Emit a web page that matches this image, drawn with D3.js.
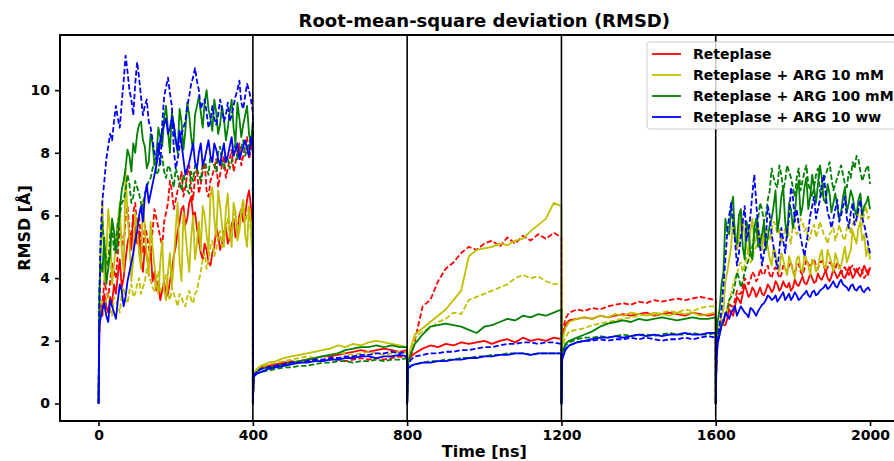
<!DOCTYPE html>
<html>
<head>
<meta charset="utf-8">
<title>RMSD</title>
<script src="https://d3js.org/d3.v7.min.js"></script>
<style>
  body { margin: 0; background: #fff; }
  svg text { font-family: "DejaVu Sans", sans-serif; font-weight: bold; fill: #000; }
</style>
</head>
<body>
<svg id="chart" width="894" height="461"></svg>
<script>
// five 400 ns blocks, each trajectory restarts at RMSD 0
var timeNs = [
  0,2,5,10,15,20,25,30,35,40,45,50,55,60,65,70,75,80,85,90,95,100,105,110,115,120,125,130,135,140,145,150,155,160,165,170,175,180,185,190,195,200,
  205,210,215,220,225,230,235,240,245,250,255,260,265,270,275,280,285,290,295,300,305,310,315,320,325,330,335,340,345,350,355,360,365,370,375,380,385,390,395,400,
  400,402,410,420,440,460,480,500,520,540,560,580,600,620,640,660,680,700,720,740,760,780,800,
  800,802,810,820,840,860,880,900,920,940,960,980,1000,1020,1040,1060,1080,1100,1120,1140,1160,1180,1200,
  1200,1202,1210,1220,1240,1260,1280,1300,1320,1340,1360,1380,1400,1420,1440,1460,1480,1500,1520,1540,1560,1580,1600,
  1600,1602,1605,1610,1615,1620,1625,1630,1635,1640,1645,1650,1655,1660,1665,1670,1675,1680,1685,1690,1695,1700,1705,1710,1715,1720,1725,1730,1735,1740,1745,1750,1755,1760,1765,1770,1775,1780,1785,1790,1795,1800,
  1805,1810,1815,1820,1825,1830,1835,1840,1845,1850,1855,1860,1865,1870,1875,1880,1885,1890,1895,1900,1905,1910,1915,1920,1925,1930,1935,1940,1945,1950,1955,1960,1965,1970,1975,1980,1985,1990,1995,2000
];

var retSolid = [
  0,2.2,
  3.0,2.8,3.5,3.1,2.9,3.4,3.2,3.8,3.5,4.1,4.6,3.7,4.0,4.6,5.1,5.4,4.9,6.0,5.6,5.1,
  5.5,4.6,4.2,5.0,4.7,4.4,4.9,3.9,4.2,3.6,3.9,3.3,3.6,3.9,3.4,3.5,3.9,4.2,4.7,5.0,
  5.5,5.8,6.2,6.3,5.7,5.9,6.4,6.6,6.0,6.1,5.6,5.2,4.8,4.6,5.1,4.9,4.5,4.4,4.8,5.0,
  5.6,5.4,4.9,5.1,5.5,5.6,5.1,5.3,5.7,5.9,5.3,5.5,6.0,6.2,5.8,6.0,6.5,6.8,6.3,5.6,
  0,0.95,1.05,1.15,1.2,1.25,1.3,1.3,1.35,1.4,1.45,1.5,1.5,1.55,1.6,1.65,1.7,1.65,1.7,1.75,1.7,1.65,1.7,
  0,1.3,1.5,1.6,1.75,1.85,1.8,1.9,1.85,1.95,1.9,1.95,2.0,1.9,2.0,2.05,1.95,2.1,2.0,2.05,2.0,2.1,2.05,
  0,2.1,2.5,2.65,2.7,2.75,2.7,2.8,2.75,2.8,2.85,2.8,2.85,2.9,2.8,2.85,2.9,2.85,2.8,2.9,2.85,2.8,2.85,
  0,1.8,
  2.1,2.3,2.6,2.5,2.5,2.7,3.0,2.9,2.8,3.1,3.4,3.3,3.2,3.5,3.8,3.6,3.4,3.5,3.7,3.6,
  3.4,3.55,3.7,3.5,3.45,3.6,3.8,3.7,3.55,3.65,3.9,3.8,3.6,3.7,3.9,3.75,3.7,3.85,3.6,3.7,
  3.95,3.8,3.75,3.9,4.05,3.85,3.8,3.95,4.15,4.0,3.85,3.9,4.15,4.0,3.95,4.1,4.25,4.0,3.9,4.05,
  4.3,4.15,4.0,4.1,4.25,4.05,4.0,4.15,4.35,4.2,4.0,4.1,4.3,4.15,4.05,4.2,4.4,4.25,4.1,4.35
];
var retDashed = [
  0,2.5,
  2.9,3.2,3.9,3.6,3.4,3.9,4.5,4.2,4.0,4.8,5.6,5.3,5.0,5.9,6.3,5.5,5.2,6.1,6.4,5.6,
  6.0,5.2,4.8,5.7,5.4,5.0,4.7,5.5,6.2,5.9,5.6,5.3,5.0,5.8,6.1,6.4,7.1,6.8,6.2,6.5,
  6.8,7.0,7.4,6.6,6.9,7.3,7.6,6.9,6.5,7.2,7.5,6.7,7.0,7.4,7.7,6.8,6.6,7.1,7.3,7.5,
  7.8,6.9,7.3,7.6,7.9,7.2,7.5,7.8,8.1,7.4,7.7,8.0,8.3,7.6,7.9,8.2,8.5,7.8,8.1,8.4,
  0,0.9,1.0,1.1,1.2,1.25,1.3,1.35,1.3,1.35,1.4,1.35,1.4,1.4,1.35,1.4,1.45,1.4,1.45,1.4,1.45,1.5,1.45,
  0,1.3,1.5,2.0,3.1,3.3,3.9,4.3,4.5,4.8,5.0,4.9,5.1,5.2,5.0,5.3,5.1,5.35,5.2,5.4,5.25,5.45,5.3,
  0,2.2,2.7,2.9,3.0,2.95,3.05,3.0,3.1,3.15,3.2,3.15,3.25,3.2,3.3,3.25,3.3,3.35,3.3,3.35,3.4,3.35,3.3,
  0,1.9,
  2.2,2.4,2.7,2.6,2.8,2.9,3.2,3.1,3.1,3.3,3.6,3.5,3.5,3.7,4.0,3.9,3.8,3.95,4.2,4.1,
  3.9,4.0,4.3,4.15,4.1,4.3,4.4,4.1,4.0,4.25,4.35,4.2,4.0,4.1,4.4,4.3,4.2,4.4,4.5,4.25,
  4.2,4.35,4.45,4.2,4.1,4.3,4.6,4.45,4.35,4.5,4.6,4.4,4.3,4.5,4.55,4.4,4.2,4.35,4.5,4.45,
  4.2,4.3,4.5,4.4,4.15,4.3,4.35,4.2,4.1,4.35,4.4,4.25,4.15,4.3,4.35,4.2,4.0,4.1,4.25,4.3
];

var arg10Solid = [
  0,3.0,
  4.8,6.5,3.9,4.6,6.2,5.5,3.8,4.4,5.1,5.8,6.4,4.9,4.2,7.5,6.0,5.2,3.9,4.6,6.1,5.5,
  4.8,4.3,6.5,5.6,4.7,4.1,5.8,5.0,4.4,3.8,3.5,4.5,5.2,3.6,3.3,4.2,4.8,3.7,4.5,5.6,
  6.4,4.5,3.9,6.1,5.5,4.8,4.2,5.3,6.0,4.6,5.1,5.8,4.9,6.3,6.0,5.4,4.8,6.6,6.9,5.9,
  5.3,6.8,6.3,5.7,5.0,6.2,6.7,5.5,5.0,6.4,6.1,5.2,5.5,6.0,6.5,5.4,5.0,6.3,5.7,4.3,
  0,0.95,1.1,1.2,1.3,1.35,1.45,1.5,1.55,1.6,1.65,1.7,1.75,1.85,1.8,1.9,1.85,1.95,2.0,1.95,1.9,1.85,1.8,
  0,1.3,1.8,2.2,2.4,2.6,2.8,3.0,3.3,3.6,4.7,4.9,4.95,5.0,5.1,5.05,5.2,5.25,5.5,5.7,5.9,6.4,6.3,
  0,2.0,2.4,2.6,2.7,2.75,2.7,2.8,2.75,2.85,2.8,2.9,2.85,2.8,2.9,2.85,2.8,2.9,2.85,2.9,2.8,2.85,2.9,
  0,1.6,
  2.0,2.3,2.8,3.0,3.9,4.2,4.6,5.0,5.9,5.6,4.9,5.2,6.1,5.8,5.4,5.0,4.8,5.5,5.9,5.1,
  5.3,5.7,5.0,4.9,5.6,5.3,5.0,4.6,4.4,5.0,4.8,4.4,4.2,4.8,4.6,4.3,4.1,4.7,4.5,4.2,
  4.0,4.6,4.7,4.3,4.2,4.8,4.6,4.4,4.1,4.6,4.5,4.2,4.3,4.7,4.9,4.4,4.3,4.9,4.7,4.5,
  4.2,4.8,4.6,4.3,4.4,4.7,5.0,4.5,4.7,4.9,5.5,5.3,5.1,5.6,5.8,5.2,5.4,4.7,5.0,4.6
];
var arg10Dashed = [
  0,2.8,
  3.3,3.1,2.9,3.3,3.5,3.0,2.8,3.4,3.3,3.1,2.9,3.5,3.7,3.3,3.2,3.6,3.8,3.4,3.5,3.8,
  4.0,3.5,3.7,3.9,4.3,4.1,3.9,3.7,3.6,4.0,4.2,3.6,3.7,3.9,4.1,3.5,3.3,3.7,3.5,3.3,
  3.1,3.5,3.4,3.2,3.1,3.4,3.6,3.3,3.2,3.5,3.6,3.9,4.2,4.6,4.8,4.3,4.6,5.0,5.2,4.7,
  4.9,5.3,5.5,5.0,5.3,5.6,5.9,5.2,5.5,5.9,6.1,5.5,5.8,6.2,6.5,5.8,6.0,6.3,5.4,4.6,
  0,0.9,1.05,1.15,1.25,1.3,1.35,1.4,1.45,1.5,1.45,1.5,1.55,1.6,1.6,1.55,1.6,1.65,1.6,1.55,1.6,1.65,1.6,
  0,1.2,1.7,2.1,2.3,2.4,2.6,2.7,2.9,2.85,3.3,3.4,3.5,3.6,3.7,3.8,4.0,4.1,4.0,4.05,3.9,3.8,3.85,
  0,1.8,2.1,2.3,2.35,2.4,2.5,2.55,2.6,2.65,2.7,2.75,2.8,2.85,2.8,2.9,2.95,2.9,3.0,2.95,3.05,3.1,3.1,
  0,1.7,
  2.0,2.2,2.4,2.6,2.9,3.0,3.3,3.5,3.8,4.0,4.1,4.4,4.5,4.2,4.4,4.7,4.9,4.5,4.6,4.9,
  5.0,5.3,5.4,5.0,5.2,5.6,5.5,5.2,5.5,5.8,5.7,5.4,5.6,5.1,5.3,5.6,5.7,5.3,5.1,5.7,
  5.6,5.4,5.5,5.9,5.8,5.5,5.6,5.2,5.3,5.6,5.7,5.3,5.5,5.8,5.6,5.4,5.3,5.1,5.4,5.5,
  5.6,5.2,5.4,5.7,5.5,5.3,5.2,5.6,5.8,5.4,5.7,5.9,5.8,6.1,6.0,5.7,6.1,6.3,5.9,6.0
];

var arg100Solid = [
  0,3.5,
  4.5,4.2,5.3,3.8,4.3,4.8,5.9,5.5,4.8,5.2,6.2,6.8,7.1,7.5,8.1,7.9,7.4,8.3,8.0,8.6,
  8.9,9.0,8.4,8.2,7.5,7.7,8.6,8.3,7.6,7.9,8.8,8.5,8.2,9.1,9.5,8.7,8.0,9.3,8.9,8.4,
  8.0,9.4,9.0,8.1,8.7,9.6,9.2,8.5,8.1,9.2,9.5,9.8,9.3,8.8,9.6,10.0,9.4,9.1,8.7,9.7,
  9.3,8.6,8.9,9.5,9.1,8.4,8.8,9.3,9.7,8.8,8.3,9.6,9.1,8.5,8.9,9.2,9.5,8.6,8.3,9.0,
  0,0.9,1.0,1.1,1.15,1.2,1.25,1.3,1.35,1.4,1.45,1.5,1.55,1.6,1.7,1.75,1.8,1.8,1.85,1.8,1.85,1.8,1.8,
  0,1.3,1.6,1.9,2.2,2.45,2.5,2.55,2.5,2.45,2.35,2.25,2.45,2.5,2.6,2.7,2.65,2.8,2.75,2.85,2.8,2.9,3.0,
  0,1.6,1.9,2.0,2.1,2.2,2.3,2.45,2.55,2.6,2.65,2.6,2.7,2.65,2.7,2.75,2.7,2.65,2.7,2.75,2.7,2.7,2.75,
  0,2.0,
  2.6,3.0,3.8,4.2,5.9,5.5,5.4,6.3,6.6,5.2,5.1,6.0,6.2,5.0,4.6,5.8,5.5,4.8,4.6,5.6,
  5.9,5.0,5.1,5.4,5.8,4.9,5.3,5.7,5.9,6.3,6.8,5.5,5.9,6.6,6.9,5.8,5.3,6.4,6.2,5.6,
  6.0,6.8,7.1,6.0,6.3,6.9,7.2,6.2,6.6,7.3,6.9,6.4,7.0,7.6,7.2,6.5,6.4,7.0,6.7,6.1,
  6.4,6.7,6.3,5.9,6.1,6.6,6.9,6.1,6.4,6.8,6.6,6.2,6.0,6.5,6.7,6.0,6.3,6.4,6.6,6.2
];
var arg100Dashed = [
  0,3.5,
  4.9,5.8,5.0,4.6,4.4,5.4,5.6,4.9,5.2,5.8,6.0,6.4,6.5,6.8,7.3,7.0,6.4,6.6,7.1,6.9,
  6.7,6.4,6.2,6.7,6.9,7.1,7.2,7.5,7.7,7.3,7.4,7.8,7.9,7.4,7.2,7.6,7.5,7.2,6.9,7.5,
  7.3,7.0,6.8,7.3,7.1,6.8,6.7,7.4,7.1,7.6,7.5,7.3,7.1,7.7,7.8,7.5,7.3,7.9,7.7,7.6,
  7.4,8.0,8.2,7.7,7.5,7.9,7.8,7.5,7.7,8.1,8.3,7.8,7.9,8.2,8.4,7.9,8.1,8.3,8.5,8.0,
  0,0.85,0.95,1.0,1.05,1.1,1.15,1.15,1.2,1.2,1.25,1.3,1.3,1.35,1.35,1.3,1.35,1.35,1.4,1.35,1.4,1.4,1.45,
  0,1.1,1.2,1.25,1.3,1.35,1.35,1.4,1.4,1.45,1.45,1.5,1.5,1.55,1.55,1.6,1.6,1.6,1.55,1.6,1.6,1.6,1.6,
  0,1.6,1.85,1.95,2.05,2.1,2.1,2.15,2.1,2.15,2.2,2.15,2.2,2.2,2.15,2.2,2.25,2.2,2.2,2.25,2.2,2.2,2.25,
  0,1.8,
  2.0,2.2,2.5,2.6,2.8,3.0,3.3,3.4,3.5,3.8,4.2,4.0,3.7,3.9,4.2,4.4,4.6,4.8,5.0,5.4,
  5.6,5.9,6.4,6.2,5.8,6.0,6.5,6.8,7.5,7.2,7.0,6.9,7.6,7.3,6.8,7.1,7.6,7.4,7.2,6.9,
  6.6,7.2,7.5,6.8,7.1,7.4,7.6,7.0,6.8,6.6,6.9,7.3,7.5,6.8,6.6,7.1,7.3,7.5,7.7,7.2,
  6.8,7.0,7.2,7.4,7.6,7.3,7.0,6.9,7.4,7.2,7.7,7.5,7.9,7.8,7.4,7.1,7.3,7.5,7.6,7.0
];

var wwSolid = [
  0,2.5,
  2.7,3.0,3.2,2.8,2.6,3.3,3.1,2.9,2.7,3.3,3.8,3.6,3.1,3.4,3.9,4.2,4.5,4.8,5.2,5.5,
  6.0,6.3,5.8,6.6,7.0,6.4,6.7,7.0,7.3,7.6,8.0,8.4,8.7,8.9,9.1,8.6,8.8,9.1,8.9,8.4,
  8.1,8.7,8.3,7.8,7.3,7.5,7.7,8.0,8.3,7.7,7.5,8.0,8.3,7.6,7.8,8.1,8.4,7.9,7.7,8.3,
  8.1,7.8,7.6,8.0,8.3,7.7,7.9,8.2,8.5,7.9,8.1,8.3,7.8,8.0,8.2,8.4,8.1,7.9,8.5,8.2,
  0,0.85,0.95,1.0,1.1,1.15,1.2,1.25,1.3,1.3,1.35,1.35,1.4,1.4,1.45,1.45,1.5,1.5,1.45,1.5,1.5,1.55,1.5,
  0,1.1,1.2,1.25,1.3,1.3,1.35,1.35,1.4,1.4,1.45,1.45,1.5,1.5,1.55,1.55,1.6,1.6,1.55,1.6,1.6,1.6,1.6,
  0,1.4,1.7,1.85,1.95,2.0,2.05,2.1,2.1,2.15,2.1,2.15,2.2,2.15,2.2,2.15,2.2,2.2,2.25,2.2,2.2,2.25,2.25,
  0,1.4,
  1.9,2.2,2.5,2.6,2.9,2.8,2.7,2.9,3.0,3.1,2.8,2.95,3.1,3.0,2.9,2.85,2.75,3.05,3.0,2.9,
  2.8,2.95,3.05,3.15,3.2,3.3,3.45,3.4,3.3,3.35,3.45,3.25,3.35,3.45,3.55,3.3,3.4,3.5,3.3,3.4,
  3.55,3.45,3.3,3.35,3.45,3.5,3.6,3.45,3.4,3.55,3.6,3.45,3.5,3.6,3.65,3.7,3.8,3.65,3.7,3.8,
  3.9,3.75,3.7,3.85,3.95,3.8,3.75,3.7,3.6,3.75,3.8,3.65,3.6,3.7,3.75,3.6,3.55,3.65,3.7,3.6
];
var wwDashed = [
  0,3.0,
  5.2,6.5,7.1,7.8,8.2,8.6,8.4,9.0,9.5,9.1,8.8,9.6,10.3,11.1,10.6,10.0,9.7,9.2,10.2,10.9,
  10.4,9.8,9.2,9.5,9.7,9.0,8.8,8.4,8.0,7.8,8.3,7.6,8.9,9.8,10.1,10.4,9.9,9.5,8.1,7.5,
  7.8,8.2,8.6,8.8,9.0,9.5,9.8,10.2,10.4,10.7,10.3,10.0,9.4,9.6,9.7,9.3,8.8,9.0,9.5,9.1,
  8.9,9.2,9.7,9.4,9.0,9.2,9.6,9.0,9.2,9.5,9.8,10.0,10.3,9.6,9.4,9.8,10.2,10.0,9.7,9.3,
  0,0.9,1.0,1.1,1.15,1.2,1.25,1.3,1.3,1.35,1.4,1.4,1.45,1.45,1.5,1.5,1.55,1.55,1.6,1.6,1.65,1.6,1.65,
  0,1.2,1.4,1.5,1.55,1.6,1.6,1.65,1.65,1.7,1.7,1.75,1.8,1.8,1.85,1.9,1.9,1.95,1.95,1.9,1.95,1.95,1.9,
  0,1.5,1.75,1.85,1.95,2.0,2.0,2.05,2.0,2.05,2.05,2.1,2.05,2.1,2.05,2.0,2.05,2.05,2.1,2.05,2.1,2.15,2.1,
  0,1.5,
  2.0,2.5,3.0,3.8,4.6,5.5,6.0,6.4,5.7,5.2,4.4,4.8,5.3,5.8,6.3,5.2,5.5,6.0,6.7,7.3,
  6.4,5.6,5.0,4.4,4.8,5.3,6.3,6.0,5.4,5.0,4.6,4.3,4.9,5.6,5.2,4.8,5.5,5.9,6.9,6.6,
  5.8,6.2,5.7,5.3,5.0,4.7,5.1,5.5,6.0,6.3,6.6,5.9,6.2,6.5,7.0,7.3,6.7,6.1,5.9,5.6,
  5.9,6.2,6.5,5.8,6.0,6.3,6.6,5.9,5.6,6.1,6.4,5.7,5.9,6.2,6.5,5.9,5.7,5.4,5.1,4.8
];

var seriesNames = ["Reteplase", "Reteplase + ARG 10 mM", "Reteplase + ARG 100 mM", "Reteplase + ARG 10 ww"];
var seriesColors = ["#ff0000", "#bfbf00", "#008000", "#0000ff"];
var solidRuns = [retSolid, arg10Solid, arg100Solid, wwSolid];
var dashedRuns = [retDashed, arg10Dashed, arg100Dashed, wwDashed];
var blockEdges = [400, 800, 1200, 1600];
var xTicks = [0, 400, 800, 1200, 1600, 2000];
var yTicks = [0, 2, 4, 6, 8, 10];

var svg = d3.select("#chart"),
    margin = {top: 35, left: 60, bottom: 40},
    W = +svg.attr("width"), H = +svg.attr("height");

var x = d3.scaleLinear().domain([-100, 2100]).range([margin.left, 908.6]);
var y = d3.scaleLinear().domain([-0.56, 11.76]).range([H - margin.bottom, margin.top]);

svg.append("rect").attr("width", W).attr("height", H).attr("fill", "#fff");

svg.append("defs").append("clipPath").attr("id", "clip")
    .append("rect")
    .attr("x", x.range()[0]).attr("y", margin.top)
    .attr("width", x.range()[1] - x.range()[0])
    .attr("height", y.range()[0] - margin.top);

var line = d3.line()
    .x((d, i) => x(timeNs[i]))
    .y(d => y(d));

var plot = svg.append("g").attr("clip-path", "url(#clip)");

seriesNames.forEach(function (name, k) {
    [solidRuns[k], dashedRuns[k]].forEach(function (vals, j) {
        if (vals.length !== timeNs.length) throw new Error(name + " " + j + ": " + vals.length + " vs " + timeNs.length);
        plot.append("path")
            .datum(vals)
            .attr("fill", "none")
            .attr("stroke", seriesColors[k])
            .attr("stroke-width", 1.8)
            .attr("stroke-linejoin", "round")
            .attr("stroke-dasharray", j === 1 ? "5.5,2.4" : null)
            .attr("d", line);
    });
});

// block separators
plot.selectAll(".sep")
    .data(blockEdges)
    .enter().append("line")
    .attr("x1", d => x(d)).attr("x2", d => x(d))
    .attr("y1", margin.top).attr("y2", y.range()[0])
    .attr("stroke", "#000")
    .attr("stroke-width", 1.6);

// axes
var xAxis = svg.append("g")
    .attr("transform", `translate(0,${y.range()[0]})`)
    .call(d3.axisBottom(x).tickValues(xTicks).tickFormat(d3.format("d"))
        .tickSize(5).tickPadding(4).tickSizeOuter(0));
var yAxis = svg.append("g")
    .attr("transform", `translate(${margin.left},0)`)
    .call(d3.axisLeft(y).tickValues(yTicks).tickFormat(d3.format("d"))
        .tickSize(5).tickPadding(5).tickSizeOuter(0));

[xAxis, yAxis].forEach(function (g) {
    g.select(".domain").remove();
    g.selectAll(".tick line").attr("stroke", "#000").attr("stroke-width", 1.6);
    g.selectAll(".tick text").attr("font-size", 14).attr("font-family", null);
});

// frame
svg.append("rect")
    .attr("x", x.range()[0]).attr("y", margin.top)
    .attr("width", x.range()[1] - x.range()[0])
    .attr("height", y.range()[0] - margin.top)
    .attr("fill", "none")
    .attr("stroke", "#000")
    .attr("stroke-width", 2);

var cx = (x.range()[0] + x.range()[1]) / 2;

svg.append("text")
    .attr("x", cx)
    .attr("y", 27)
    .attr("text-anchor", "middle")
    .attr("font-size", 18)
    .text("Root-mean-square deviation (RMSD)");

svg.append("text")
    .attr("x", cx)
    .attr("y", 457)
    .attr("text-anchor", "middle")
    .attr("font-size", 16)
    .text("Time [ns]");

svg.append("text")
    .attr("transform", `translate(30,${(y.range()[0] + margin.top) / 2}) rotate(-90)`)
    .attr("text-anchor", "middle")
    .attr("font-size", 16)
    .text("RMSD [Å]");

// legend
var legend = svg.append("g").attr("transform", "translate(647,42)");
legend.append("rect")
    .attr("width", 270).attr("height", 87)
    .attr("rx", 3)
    .attr("fill", "#fff").attr("fill-opacity", 0.8)
    .attr("stroke", "#cccccc").attr("stroke-width", 1);

var item = legend.selectAll(".item")
    .data(seriesNames)
    .enter().append("g")
    .attr("transform", (d, i) => `translate(0,${12 + i * 21})`);
item.append("line")
    .attr("x1", 5).attr("x2", 34)
    .attr("stroke", (d, i) => seriesColors[i])
    .attr("stroke-width", 1.8);
item.append("text")
    .attr("x", 46).attr("dy", "0.35em")
    .attr("font-size", 14)
    .text(d => d);
</script>
</body>
</html>
